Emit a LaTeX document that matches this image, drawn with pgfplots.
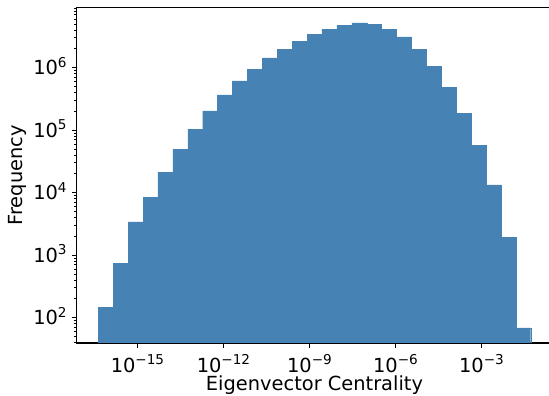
\documentclass[border=0pt]{standalone}
\usepackage{fontspec}
\setmainfont{DejaVu Sans}
\usepackage{pgfplots}
\pgfplotsset{compat=1.18}
\definecolor{steelblue}{RGB}{70,130,180}
\newcommand{\sci}[1]{10\textsuperscript{#1}}
\newcommand{\bigfont}{\fontsize{19.4}{23}\selectfont}
\begin{document}
\begin{tikzpicture}
\begin{axis}[
  scale only axis, width=475.6pt, height=335.3pt,
  xmode=log, ymode=log,
  xmin=7.447e-18, xmax=0.2904, ymin=39.4, ymax=9.12e6,
  axis line style={line width=1.11pt, black},
  every tick/.style={line width=1.11pt, black},
  major tick length=4.86pt, minor tick length=2.78pt,
  minor tick style={line width=0.83pt, black},
  tick align=outside, xtick pos=left, ytick pos=left,
  xtick={1e-15,1e-12,1e-9,1e-6,1e-3},
  xticklabels={\sci{−15},\sci{−12},\sci{−9},\sci{−6},\sci{−3}},
  ytick={1e2,1e3,1e4,1e5,1e6},
  yticklabels={\sci{2},\sci{3},\sci{4},\sci{5},\sci{6}},
  minor ytick={40,50,60,70,80,90,200,300,400,500,600,700,800,900,2000,3000,4000,5000,6000,7000,8000,9000,2e4,3e4,4e4,5e4,6e4,7e4,8e4,9e4,2e5,3e5,4e5,5e5,6e5,7e5,8e5,9e5,2e6,3e6,4e6,5e6,6e6,7e6,8e6,9e6},
  xminorticks=false,
  tick label style={font=\bigfont, inner sep=0pt},
  xticklabel style={anchor=base, yshift=-24.3pt},
  yticklabel style={anchor=base east, xshift=-4.5pt, yshift=-7.05pt},
  every axis x label/.style={at={(axis description cs:0.5,0)}, anchor=base, yshift=-47.3pt, inner sep=0pt, font=\bigfont},
  every axis y label/.style={at={(axis description cs:-0.1142,0.5)}, rotate=90, anchor=base, inner sep=0pt, font=\bigfont},
  xlabel={Eigenvector Centrality},
  ylabel={Frequency},
]
\addplot[ybar interval, fill=steelblue, draw=steelblue, line width=0.3pt] coordinates {
(4.227e-17,145)
(1.400e-16,750)
(4.637e-16,3400)
(1.536e-15,8530)
(5.087e-15,21400)
(1.685e-14,50000)
(5.580e-14,104000)
(1.848e-13,203000)
(6.121e-13,366000)
(2.027e-12,613000)
(6.714e-12,953000)
(2.224e-11,1430000)
(7.365e-11,1990000)
(2.439e-10,2670000)
(8.079e-10,3460000)
(2.676e-9,4160000)
(8.863e-9,4820000)
(2.935e-8,5190000)
(9.723e-8,5000000)
(3.220e-7,4160000)
(1.067e-6,3100000)
(3.533e-6,1990000)
(1.170e-5,1060000)
(3.876e-5,491000)
(1.284e-4,188000)
(4.251e-4,57900)
(1.408e-3,13300)
(4.664e-3,1950)
(1.545e-2,69)
(5.117e-2,69)
};
\end{axis}
\pgfresetboundingbox
\path[use as bounding box] ([xshift=-76.7pt,yshift=-53pt]current axis.south west) rectangle ([xshift=472.3pt,yshift=7.7pt]current axis.north west);
\end{tikzpicture}
\end{document}
